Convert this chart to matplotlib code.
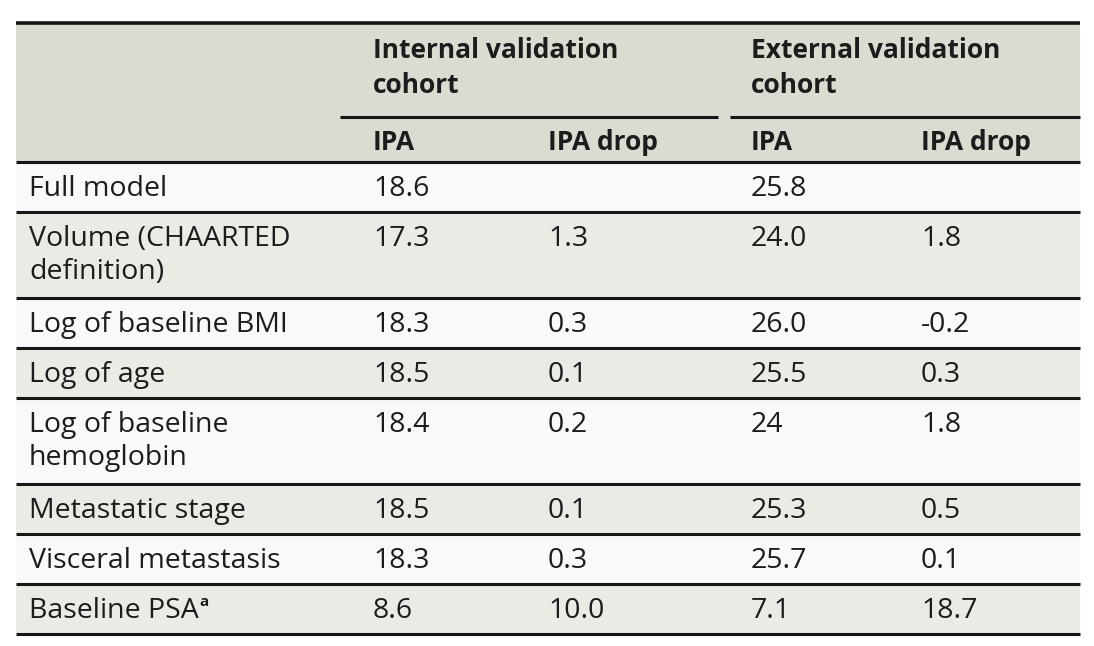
import matplotlib.pyplot as plt
from matplotlib.patches import Rectangle

# Table content
row_labels = [
    "Full model",
    "Volume (CHAARTED\ndefinition)",
    "Log of baseline BMI",
    "Log of age",
    "Log of baseline\nhemoglobin",
    "Metastatic stage",
    "Visceral metastasis",
    "Baseline PSA",
]
internal_ipa = ["18.6", "17.3", "18.3", "18.5", "18.4", "18.5", "18.3", "8.6"]
internal_drop = ["", "1.3", "0.3", "0.1", "0.2", "0.1", "0.3", "10.0"]
external_ipa = ["25.8", "24.0", "26.0", "25.5", "24", "25.3", "25.7", "7.1"]
external_drop = ["", "1.8", "-0.2", "0.3", "1.8", "0.5", "0.1", "18.7"]
group_headers = ["Internal validation\ncohort", "External validation\ncohort"]
sub_headers = ["IPA", "IPA drop", "IPA", "IPA drop"]

plt.rcParams['font.family'] = ['Open Sans', 'DejaVu Sans']

W, H = 1094, 646
fig = plt.figure(figsize=(W / 100, H / 100), dpi=100)
ax = fig.add_axes([0, 0, 1, 1])
ax.set_xlim(0, W)
ax.set_ylim(H, 0)
ax.axis('off')

left, right = 16, 1080
top, header_bottom = 23, 162
col_x = [29, 373, 548, 751, 921]
fs = 20.5
fs_bold = 19
line_h = 36
txt_color = '#1c1c1c'
rule_color = '#161616'
header_bg = '#dcdbd2'
row_bgs = ['#f9f9f7', '#ebeae5']

# header block
ax.add_patch(Rectangle((left, top), right - left, header_bottom - top,
                       facecolor=header_bg, edgecolor='none'))
for x, g in zip([col_x[1], col_x[3]], group_headers):
    for k, part in enumerate(g.split('\n')):
        ax.text(x, 58 + 35 * k, part, fontsize=fs_bold, fontweight='bold',
                color=txt_color, va='baseline', ha='left')
for x, s in zip(col_x[1:], sub_headers):
    ax.text(x, 150, s, fontsize=fs_bold, fontweight='bold', color=txt_color,
            va='baseline', ha='left')

# body rows
y = header_bottom
cols = [row_labels, internal_ipa, internal_drop, external_ipa, external_drop]
bounds = [y]
for i, label in enumerate(row_labels):
    n = label.count('\n') + 1
    h = 50 + line_h * (n - 1)
    ax.add_patch(Rectangle((left, y), right - left, h,
                           facecolor=row_bgs[i % 2], edgecolor='none'))
    for x, col in zip(col_x, cols):
        for k, part in enumerate(col[i].split('\n')):
            t = ax.text(x, y + 34 + 33 * k, part, fontsize=fs,
                        color=txt_color, va='baseline', ha='left')
        if col is row_labels and label == "Baseline PSA":
            # superscript footnote mark
            ax.annotate('a', xy=(1, 1), xycoords=t, xytext=(0.5, -6.5),
                        textcoords='offset points', fontsize=11,
                        fontweight='bold', color=txt_color,
                        va='baseline', ha='left')
    y += h
    bounds.append(y)

# rules
ax.plot([left, right], [top, top], color=rule_color, lw=2.6,
        solid_capstyle='butt')
ax.plot([340, 718], [117, 117], color=rule_color, lw=2.2, solid_capstyle='butt')
ax.plot([730, right], [117, 117], color=rule_color, lw=2.2, solid_capstyle='butt')
for b in bounds:
    ax.plot([left, right], [b, b], color=rule_color, lw=2.2,
            solid_capstyle='butt')

fig.savefig('out.png', dpi=100, facecolor='white')
